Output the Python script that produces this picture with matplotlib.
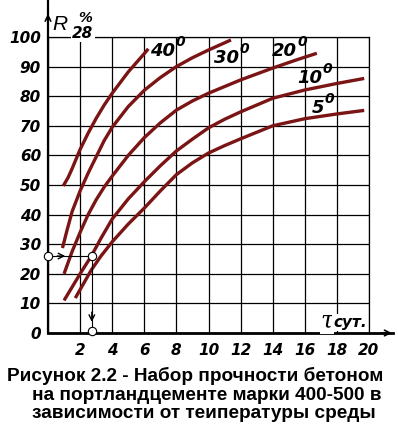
import matplotlib
matplotlib.use("Agg")
import matplotlib.pyplot as plt

# ── data (days, strength % of R28) ───────────────────────────────────────────
days_40 = [0.95, 1.25, 1.5, 2.0, 2.5, 3.0, 3.5, 4.0, 5.0, 6.0, 6.25]
r_40 = [49.7, 52.5, 55.5, 62.0, 67.5, 72.5, 77.0, 81.0, 88.2, 94.4, 96.0]

days_30 = [0.9, 1.2, 1.5, 2.0, 2.5, 3.0, 3.5, 4.0, 5.0, 6.0, 7.0, 8.0, 9.0, 10.0, 11.4]
r_30 = [28.7, 35.0, 41.0, 48.0, 54.0, 59.5, 65.0, 69.5, 76.5, 82.0, 86.3, 90.0, 93.0, 95.6, 99.0]

days_20 = [1.0, 1.5, 2.0, 2.5, 3.0, 3.5, 4.0, 5.0, 6.0, 7.0, 8.0, 9.0, 10.0, 12.0, 14.0, 15.5, 16.75]
r_20 = [20.0, 27.5, 34.0, 40.0, 45.0, 49.3, 53.0, 60.0, 66.0, 71.0, 75.3, 78.4, 81.0, 85.5, 89.5, 92.3, 94.5]

days_10 = [1.0, 2.0, 2.7, 3.3, 4.0, 5.0, 6.0, 7.0, 8.0, 9.0, 10.0, 11.0, 12.0, 14.0, 16.0, 18.0, 19.7]
r_10 = [11.0, 20.0, 26.0, 32.0, 38.5, 45.3, 51.1, 56.5, 61.5, 65.5, 69.3, 72.2, 74.7, 79.3, 82.1, 84.3, 86.0]

days_5 = [1.7, 2.7, 3.3, 4.0, 5.0, 6.0, 7.0, 8.0, 9.0, 10.0, 11.0, 12.0, 14.0, 16.0, 18.0, 19.7]
r_5 = [11.8, 21.3, 26.0, 30.8, 36.8, 42.2, 48.0, 53.5, 57.5, 60.8, 63.3, 65.6, 70.0, 72.4, 74.0, 75.2]

curve_labels = ["40", "30", "20", "10", "5"]
# label anchor: right edge of digits (day) and baseline (R)
label_days = [7.9, 11.9, 15.5, 17.1, 17.2]
label_r = [93.6, 91.2, 93.6, 84.5, 74.3]

guide_day = 2.73
guide_r = 26

x_ticks = list(range(2, 21, 2))
y_ticks = list(range(0, 101, 10))

caption = ["Рисунок 2.2 - Набор прочности бетоном",
           "на портландцементе марки 400-500 в",
           "зависимости от теипературы среды"]

W, H = 398, 432
CURVE = "#7b1414"
TICK_FONT = dict(family="DejaVu Sans", weight="bold", style="italic")
CAP_FONT = dict(family="Liberation Sans", weight="bold", fontsize=13.7)

fig = plt.figure(figsize=(W / 100, H / 100), dpi=100)
ax = fig.add_axes([48 / W, 1 - 333 / H, 321 / W, 296 / H])


def px(x, y):
    """pixel position in the picture -> figure fraction"""
    return x / W, 1 - y / H


ax.set_xlim(0, 20)
ax.set_ylim(0, 100)
ax.set_xticks([0] + x_ticks)
ax.set_xticklabels([""] + [str(t) for t in x_ticks], **TICK_FONT, fontsize=11)
ax.set_yticks(y_ticks)
ax.set_yticklabels([str(t) for t in y_ticks], **TICK_FONT, fontsize=11)
ax.tick_params(length=0, pad=5)
ax.tick_params(axis="x", pad=7)
ax.grid(True, color="black", lw=0.9)
for side in ["left", "bottom"]:
    ax.spines[side].set_visible(False)
for side in ["top", "right"]:
    ax.spines[side].set_linewidth(0.9)

# axes with arrows
ax.plot([0, 0], [0, 113], color="black", lw=1.6, clip_on=False, zorder=4)
ax.plot([0, 21.5], [0, 0], color="black", lw=2.0, clip_on=False, zorder=4)
ax.annotate("", xy=(0, 108.8), xytext=(0, 103),
            arrowprops=dict(arrowstyle="->", lw=1.2, color="black"), annotation_clip=False)
ax.annotate("", xy=(21.6, 0), xytext=(20.6, 0),
            arrowprops=dict(arrowstyle="->", lw=1.2, color="black"), annotation_clip=False)

# strength curves
for d, r in [(days_40, r_40), (days_30, r_30), (days_20, r_20), (days_10, r_10), (days_5, r_5)]:
    ax.plot(d, r, color=CURVE, lw=2.4, solid_capstyle="butt", solid_joinstyle="round", zorder=3)

for lab, d, r in zip(curve_labels, label_days, label_r):
    ax.text(d, r, lab, ha="right", va="baseline", fontsize=13, **TICK_FONT, zorder=5)
    ax.text(d + 0.02, r + 3.3, "0", ha="left", va="baseline", fontsize=10, **TICK_FONT, zorder=5)

# worked example guide
ax.plot([0, guide_day], [guide_r, guide_r], color="black", lw=0.8, zorder=4, clip_on=False)
ax.plot([guide_day, guide_day], [guide_r, 0.7], color="black", lw=0.8, zorder=4)
ax.annotate("", xy=(1.25, guide_r), xytext=(0.4, guide_r),
            arrowprops=dict(arrowstyle="->", lw=1.0, color="black"))
ax.annotate("", xy=(guide_day, 2.8), xytext=(guide_day, 8),
            arrowprops=dict(arrowstyle="->", lw=1.0, color="black"))
ax.plot([0, guide_day, guide_day], [guide_r, guide_r, 0.7], "o", ms=6, mfc="white", mec="black",
        mew=0.8, clip_on=False, zorder=6)

# axis labels
fig.text(*px(60, 24), "R", fontsize=15, family="Liberation Sans", style="italic",
         ha="center", va="center")
fig.text(*px(85, 18), "%", fontsize=10, ha="center", va="center", **TICK_FONT)
fig.text(*px(83, 33), "28", fontsize=11, ha="center", va="center", **TICK_FONT,
         bbox=dict(facecolor="white", edgecolor="none", pad=1))
fig.text(*px(327, 328), "τ", fontsize=17, family="DejaVu Serif", style="italic",
         ha="center", va="baseline",
         bbox=dict(facecolor="white", edgecolor="none", pad=0.5))
fig.text(*px(333, 327), "сут.", fontsize=11, ha="left", va="baseline", **TICK_FONT,
         bbox=dict(facecolor="white", edgecolor="none", pad=0.5))

# caption
fig.text(*px(7, 381), caption[0], ha="left", va="baseline", **CAP_FONT)
fig.text(*px(32, 400), caption[1], ha="left", va="baseline", **CAP_FONT)
fig.text(*px(32, 418), caption[2], ha="left", va="baseline", **CAP_FONT)

fig.savefig("out.png", dpi=100)
